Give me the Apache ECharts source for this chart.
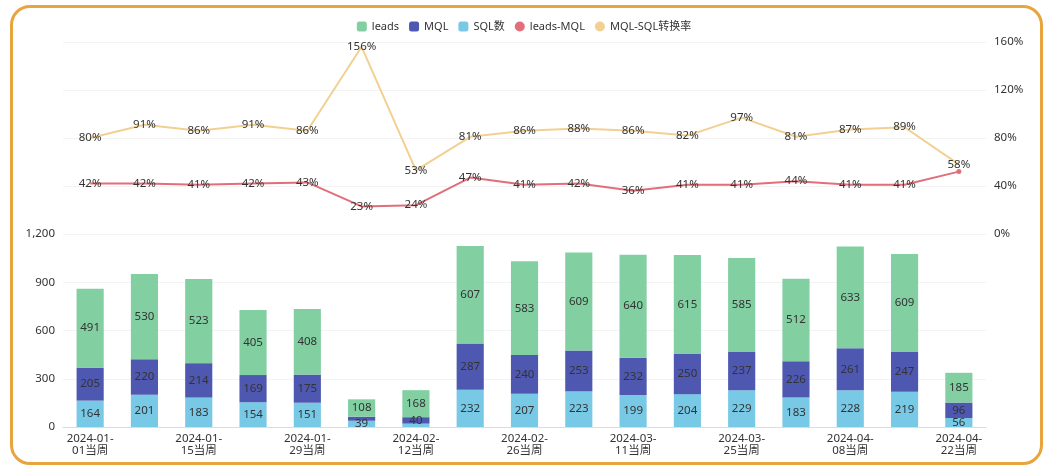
<!DOCTYPE html>
<html>
<head>
<meta charset="utf-8">
<script src="https://cdn.jsdelivr.net/npm/echarts@6/dist/echarts.min.js"></script>
<style>
html,body{margin:0;padding:0;background:#fff;}
#frame{position:absolute;left:10px;top:5px;width:1027px;height:454px;border:3px solid #e9a53d;border-radius:20px;}
#chart{position:absolute;left:0;top:0;width:1048px;height:468px;}
</style>
</head>
<body>
<div id="frame"></div>
<div id="chart"></div>
<script>
const categories = ['2024-01-01当周','2024-01-08当周','2024-01-15当周','2024-01-22当周','2024-01-29当周','2024-02-05当周','2024-02-12当周','2024-02-19当周','2024-02-26当周','2024-03-04当周','2024-03-11当周','2024-03-18当周','2024-03-25当周','2024-04-01当周','2024-04-08当周','2024-04-15当周','2024-04-22当周'];
const leads = [491,530,523,405,408,108,168,607,583,609,640,615,585,512,633,609,185];
const mql = [205,220,214,169,175,25,40,287,240,253,232,250,237,226,261,247,96];
const sql = [164,201,183,154,151,39,21,232,207,223,199,204,229,183,228,219,56];
const leadsMqlPct = [42,42,41,42,43,23,24,47,41,42,36,41,41,44,41,41,52];
const mqlSqlPct = [80,91,86,91,86,156,53,81,86,88,86,82,97,81,87,89,58];
const leftTicks = [0,300,600,900,1200];
const rightTicks = [0,40,80,120,160];

const hideMqlLabel = [5];
const hideSqlLabel = [6];
const hideLeadsMqlLabel = [16];

const FONT = '"Noto Sans","Noto Sans CJK SC",sans-serif';
const FS = 11.5;
const C_LEADS = '#82cfa2', C_MQL = '#4e58b0', C_SQL = '#78c9e6', C_RED = '#e26e7b', C_YEL = '#f2d091';

function barData(arr, hidden){
  return arr.map((v,i)=> hidden.includes(i) ? {value:v, label:{show:false}} : v);
}
function lineData(arr, hidden){
  return arr.map((v,i)=> hidden.includes(i) ? {value:v, label:{show:false}, symbolSize:5} : v);
}

const chart = echarts.init(document.getElementById('chart'));
const labelStyle = {show:true, position:'inside', color:'#333', fontSize:FS, fontFamily:FONT};
const lineLabel = {show:true, position:'inside', color:'#333', fontSize:FS, fontFamily:FONT, formatter: p => p.value + '%'};

chart.setOption({
  animation:false,
  textStyle:{fontFamily:FONT},
  legend:{
    top:16, left:'center', itemWidth:10, itemHeight:10, itemGap:10,
    textStyle:{fontSize:11, color:'#333', fontFamily:FONT},
    data:[
      {name:'leads', icon:'roundRect'},
      {name:'MQL', icon:'roundRect'},
      {name:'SQL数', icon:'roundRect'},
      {name:'leads-MQL', icon:'circle'},
      {name:'MQL-SQL转换率', icon:'circle'}
    ]
  },
  grid:[
    {left:63, right:62, top:42, height:192},
    {left:63, right:62, top:234, height:193}
  ],
  xAxis:[
    {type:'category', gridIndex:0, data:categories, show:false, boundaryGap:true},
    {type:'category', gridIndex:1, data:categories, boundaryGap:true,
      axisTick:{show:false},
      axisLine:{lineStyle:{color:'#dcdcdc'}},
      axisLabel:{interval:1, color:'#333', fontSize:FS, lineHeight:12, margin:6, fontFamily:FONT,
        formatter: v => v.slice(0,8) + '\n' + v.slice(8)}
    }
  ],
  yAxis:[
    {type:'value', gridIndex:0, position:'right', min:rightTicks[0], max:rightTicks[rightTicks.length-1], interval:40,
      axisLine:{show:false}, axisTick:{show:false},
      axisLabel:{color:'#333', fontSize:FS, margin:8, formatter:'{value}%', fontFamily:FONT},
      splitLine:{lineStyle:{color:'#f3f3f3'}}
    },
    {type:'value', gridIndex:1, min:leftTicks[0], max:leftTicks[leftTicks.length-1], interval:300,
      axisLine:{show:false}, axisTick:{show:false},
      axisLabel:{color:'#333', fontSize:FS, margin:8, fontFamily:FONT,
        formatter: v => v.toLocaleString('en-US')},
      splitLine:{lineStyle:{color:'#f3f3f3'}}
    }
  ],
  series:[
    {name:'SQL数', type:'bar', stack:'t', xAxisIndex:1, yAxisIndex:1, barWidth:'50%',
      itemStyle:{color:C_SQL}, label:labelStyle, data:barData(sql, hideSqlLabel)},
    {name:'MQL', type:'bar', stack:'t', xAxisIndex:1, yAxisIndex:1, barWidth:'50%',
      itemStyle:{color:C_MQL}, label:labelStyle, data:barData(mql, hideMqlLabel)},
    {name:'leads', type:'bar', stack:'t', xAxisIndex:1, yAxisIndex:1, barWidth:'50%',
      itemStyle:{color:C_LEADS}, label:labelStyle, data:barData(leads, [])},
    {name:'leads-MQL', type:'line', xAxisIndex:0, yAxisIndex:0, symbol:'circle', symbolSize:0.01, showSymbol:true,
      lineStyle:{color:C_RED, width:2}, itemStyle:{color:C_RED},
      label:lineLabel, data:lineData(leadsMqlPct, hideLeadsMqlLabel)},
    {name:'MQL-SQL转换率', type:'line', xAxisIndex:0, yAxisIndex:0, symbol:'circle', symbolSize:0.01, showSymbol:true,
      lineStyle:{color:C_YEL, width:2}, itemStyle:{color:C_YEL},
      label:lineLabel, data:lineData(mqlSqlPct, [])}
  ]
});
</script>
</body>
</html>
